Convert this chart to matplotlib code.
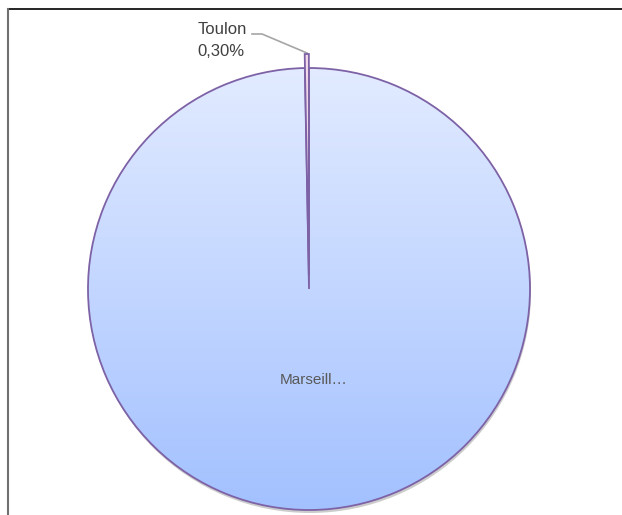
import numpy as np
import matplotlib.pyplot as plt
from matplotlib.lines import Line2D
from matplotlib.colors import LinearSegmentedColormap

labels = ['Toulon', 'Marseille']
shown = ['Toulon', 'Marseill\u2026']
values = [0.30, 99.70]

W, H = 622, 515
cx, cy, r = 309, H - 289, 221

fig = plt.figure(figsize=(W / 100, H / 100), dpi=100)
ax = fig.add_axes([0, 0, 1, 1])

# ombre légère sous le camembert
sh, _ = ax.pie([1], colors=['#000000'], radius=r, center=(cx + 1, cy - 3),
               wedgeprops=dict(linewidth=0, alpha=0.2))
for s in sh:
    s.set_zorder(0)

# explode est en unités de données ici (rayon = 221)
wedges, _ = ax.pie(values, startangle=90, counterclock=True, radius=r,
                   center=(cx, cy), explode=[14, 0],
                   colors=['#f4dcea', '#c8daff'],
                   wedgeprops=dict(edgecolor='#7d62a6', linewidth=1.3))

# dégradé vertical pour Marseille
grad = np.linspace(0, 1, 256).reshape(-1, 1)
cmap = LinearSegmentedColormap.from_list('g', ['#a3c1ff', '#e2ebff'])
im = ax.imshow(grad, cmap=cmap, origin='lower', aspect='auto',
               extent=(cx - r, cx + r, cy - r, cy + r), zorder=1)
im.set_clip_path(wedges[1])
wedges[1].set_facecolor('none')
wedges[1].set_zorder(2)
wedges[0].set_zorder(3)

# étiquettes
pct = '{:.2f}%'.format(values[0]).replace('.', ',')
ax.text(222, H - 29, shown[0], ha='center', va='center', fontsize=12,
        color='#404040', family='Liberation Sans')
ax.text(221, H - 51, pct, ha='center', va='center', fontsize=12,
        color='#404040', family='Liberation Sans')
ax.add_line(Line2D([307, 262, 252], [H - 53, H - 34, H - 34], color='#a6a6a6', lw=1.2))

t = np.deg2rad((wedges[1].theta1 + wedges[1].theta2) / 2)
ax.text(cx + 4 + 0.41 * r * np.cos(t), cy + 0.41 * r * np.sin(t), shown[1],
        ha='center', va='center', fontsize=11, color='#595959', family='Liberation Sans')

# cadre
ax.add_line(Line2D([8, W], [H - 9, H - 9], color='black', lw=1.2))
ax.add_line(Line2D([8, 8], [H - 9, 0], color='#707070', lw=1.5))

ax.set_xlim(0, W)
ax.set_ylim(0, H)
ax.set_aspect('auto')
ax.axis('off')

fig.savefig('out.png', dpi=100)
